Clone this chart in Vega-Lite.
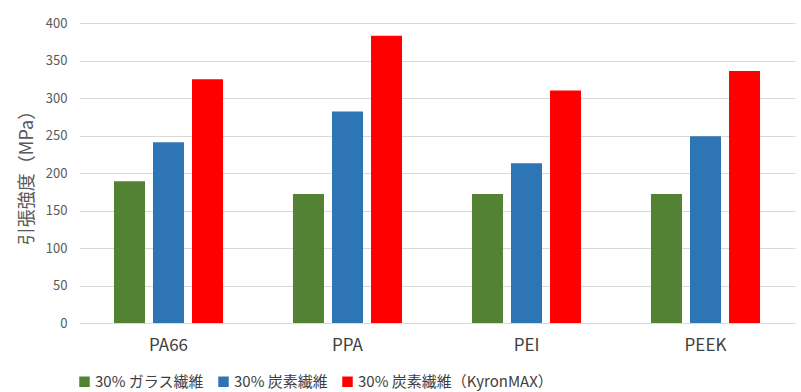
{
  "$schema": "https://vega.github.io/schema/vega-lite/v6.json",
  "width": 716,
  "height": 300,
  "autosize": "none",
  "padding": {"left": 79, "top": 23, "right": 6, "bottom": 69},
  "background": "white",
  "data": {
    "values": [
      {"material": "PA66", "series": "30% ガラス繊維", "value": 189},
      {"material": "PA66", "series": "30% 炭素繊維", "value": 241},
      {"material": "PA66", "series": "30% 炭素繊維（KyronMAX）", "value": 325},
      {"material": "PPA", "series": "30% ガラス繊維", "value": 172},
      {"material": "PPA", "series": "30% 炭素繊維", "value": 282},
      {"material": "PPA", "series": "30% 炭素繊維（KyronMAX）", "value": 383},
      {"material": "PEI", "series": "30% ガラス繊維", "value": 172},
      {"material": "PEI", "series": "30% 炭素繊維", "value": 213},
      {"material": "PEI", "series": "30% 炭素繊維（KyronMAX）", "value": 310},
      {"material": "PEEK", "series": "30% ガラス繊維", "value": 172},
      {"material": "PEEK", "series": "30% 炭素繊維", "value": 249},
      {"material": "PEEK", "series": "30% 炭素繊維（KyronMAX）", "value": 336}
    ]
  },
  "config": {
    "font": "Noto Sans CJK JP",
    "view": {"stroke": null}
  },
  "mark": {"type": "bar"},
  "encoding": {
    "x": {
      "field": "material",
      "type": "nominal",
      "sort": ["PA66", "PPA", "PEI", "PEEK"],
      "scale": {"paddingInner": 0.346, "paddingOuter": 0.173},
      "axis": {
        "title": null,
        "labelAngle": 0,
        "labelFont": "Noto Sans CJK JP",
        "labelFontSize": 17,
        "labelColor": "#404040",
        "labelPadding": 14,
        "ticks": false,
        "domain": false
      }
    },
    "xOffset": {
      "field": "series",
      "type": "nominal",
      "sort": ["30% ガラス繊維", "30% 炭素繊維", "30% 炭素繊維（KyronMAX）"],
      "scale": {"paddingInner": 0.205, "paddingOuter": 0.1026}
    },
    "y": {
      "field": "value",
      "type": "quantitative",
      "scale": {"domain": [0, 400]},
      "axis": {
        "title": "引張強度（MPa）",
        "titleFont": "Noto Sans CJK JP",
        "titleFontSize": 18,
        "titleFontWeight": "normal",
        "titleColor": "#595959",
        "titlePadding": 9,
        "values": [0, 50, 100, 150, 200, 250, 300, 350, 400],
        "labelFontSize": 13,
        "labelColor": "#595959",
        "labelPadding": 12,
        "ticks": false,
        "domain": false,
        "gridColor": "#d9d9d9",
        "gridWidth": 1
      }
    },
    "color": {
      "field": "series",
      "type": "nominal",
      "sort": ["30% ガラス繊維", "30% 炭素繊維", "30% 炭素繊維（KyronMAX）"],
      "scale": {
        "domain": ["30% ガラス繊維", "30% 炭素繊維", "30% 炭素繊維（KyronMAX）"],
        "range": ["#548235", "#2e75b6", "#ff0000"]
      },
      "legend": {
        "title": null,
        "orient": "none",
        "direction": "horizontal",
        "legendX": -2,
        "legendY": 351,
        "symbolType": "square",
        "symbolSize": 110,
        "symbolStrokeWidth": 0,
        "labelFontSize": 15,
        "labelLimit": 400,
        "labelColor": "#404040",
        "labelOffset": 3,
        "columnPadding": 12
      }
    }
  }
}
